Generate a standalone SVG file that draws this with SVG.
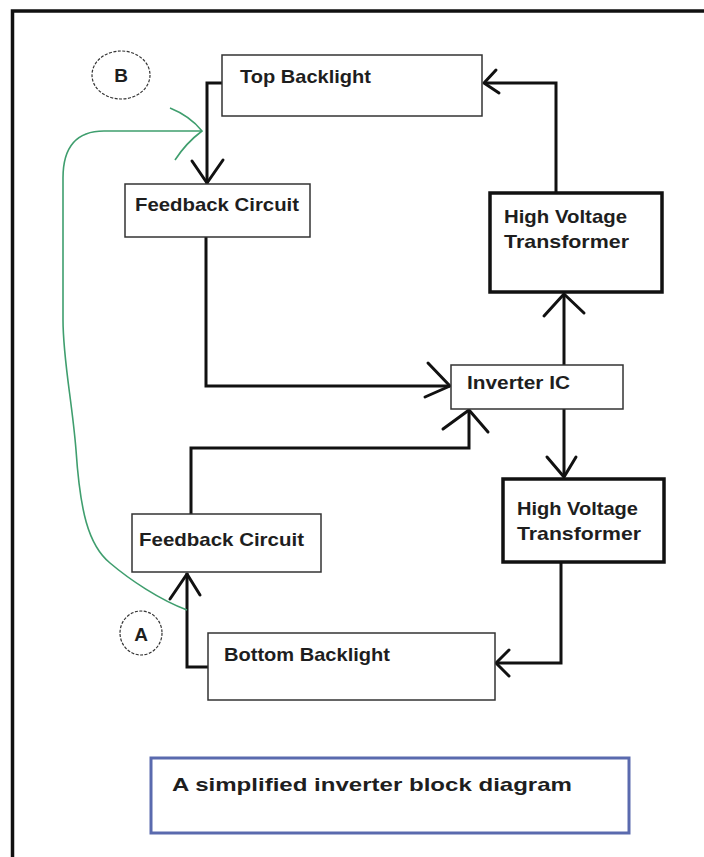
<svg xmlns="http://www.w3.org/2000/svg" width="704" height="857" viewBox="0 0 704 857">
<style>
.box{fill:#fff;stroke:#333;stroke-width:1.5}
.thick{fill:#fff;stroke:#111;stroke-width:3.5}
.lbl{font-family:"Liberation Sans",Arial,sans-serif;font-weight:bold;font-size:19px;fill:#1e1e1e}
.wire{fill:none;stroke:#111;stroke-width:3;stroke-linejoin:miter}
.head{fill:none;stroke:#111;stroke-width:3;stroke-linecap:round;stroke-linejoin:round}
.green{fill:none;stroke:#3f9e6e;stroke-width:1.6}
.circ{fill:#fff;stroke:#333;stroke-width:1.2;stroke-dasharray:3 1.5}
</style>
<rect x="0" y="0" width="704" height="857" fill="#fff"/>
<rect id="frame" x="12.5" y="11" width="760" height="900" fill="none" stroke="#111" stroke-width="3.5"/>

<g id="connectors">
  <!-- Top Backlight -> Feedback (top) -->
  <path class="wire" d="M222 83 H207 V184"/>
  <path class="head" d="M192 161 L207 183 L223 160"/>
  <!-- Feedback (top) -> Inverter IC -->
  <path class="wire" d="M206 237 V386 H450"/>
  <path class="head" d="M428 363 L450 386 L425 397"/>
  <!-- Feedback (bottom) -> Inverter IC -->
  <path class="wire" d="M191 514 V448 H469 V410"/>
  <path class="head" d="M443 429 L469 410 L488 432"/>
  <!-- Inverter IC -> upper HVT -->
  <path class="wire" d="M564 365 V294"/>
  <path class="head" d="M544 316 L564 294 L584 313"/>
  <!-- upper HVT -> Top Backlight -->
  <path class="wire" d="M556 193 V83 H484"/>
  <path class="head" d="M496 70 L484 83 L499 93"/>
  <!-- Inverter IC -> lower HVT -->
  <path class="wire" d="M564 409 V477"/>
  <path class="head" d="M547 457 L564 477 L576 457"/>
  <!-- lower HVT -> Bottom Backlight -->
  <path class="wire" d="M561 562 V663 H496"/>
  <path class="head" d="M509 650 L496 663 L509 676"/>
  <!-- Bottom Backlight -> Feedback (bottom) -->
  <path class="wire" d="M208 667 H187 V573"/>
  <path class="head" d="M170 599 L187 574 L200 595"/>
  <!-- green feedback path A -> B -->
  <path class="green" d="M187 610 C160 600 130 580 110 563 C88 545 80 510 76 450 C72 400 63 360 63 320 L63 178 Q63 131 104 131 L202 131"/>
  <path class="green" d="M170 108 Q190 116 202 131 Q186 143 175 160"/>
</g>

<g id="node-b">
  <ellipse class="circ" cx="121" cy="75" rx="29" ry="24"/>
  <text class="lbl" x="121" y="82" text-anchor="middle" font-size="20">B</text>
</g>
<g id="node-a">
  <ellipse class="circ" cx="141" cy="633" rx="21" ry="22"/>
  <text class="lbl" x="141" y="641" text-anchor="middle" font-size="21">A</text>
</g>

<g id="top-backlight">
  <rect class="box" x="222" y="55" width="260" height="61"/>
  <text class="lbl" x="240" y="83" textLength="131" lengthAdjust="spacingAndGlyphs">Top Backlight</text>
</g>
<g id="feedback-top">
  <rect class="box" x="125" y="184" width="185" height="53"/>
  <text class="lbl" x="135" y="211" textLength="164" lengthAdjust="spacingAndGlyphs">Feedback Circuit</text>
</g>
<g id="hvt-upper">
  <rect class="thick" x="490" y="193" width="172" height="99"/>
  <text class="lbl" x="504" y="223" textLength="123" lengthAdjust="spacingAndGlyphs">High Voltage</text>
  <text class="lbl" x="504" y="248" textLength="125" lengthAdjust="spacingAndGlyphs">Transformer</text>
</g>
<g id="inverter-ic">
  <rect class="box" x="451" y="365" width="172" height="44"/>
  <text class="lbl" x="467" y="389" textLength="103" lengthAdjust="spacingAndGlyphs">Inverter IC</text>
</g>
<g id="hvt-lower">
  <rect class="thick" x="503" y="479" width="161" height="83"/>
  <text class="lbl" x="517" y="515" textLength="121" lengthAdjust="spacingAndGlyphs">High Voltage</text>
  <text class="lbl" x="517" y="540" textLength="124" lengthAdjust="spacingAndGlyphs">Transformer</text>
</g>
<g id="feedback-bottom">
  <rect class="box" x="132" y="514" width="189" height="58"/>
  <text class="lbl" x="139" y="546" textLength="165" lengthAdjust="spacingAndGlyphs">Feedback Circuit</text>
</g>
<g id="bottom-backlight">
  <rect class="box" x="208" y="633" width="287" height="67"/>
  <text class="lbl" x="224" y="661" textLength="166" lengthAdjust="spacingAndGlyphs">Bottom Backlight</text>
</g>
<g id="caption">
  <rect x="151" y="758" width="478" height="75" fill="#fff" stroke="#5a6aae" stroke-width="3"/>
  <text class="lbl" x="172" y="791" font-size="24" textLength="400" lengthAdjust="spacingAndGlyphs">A simplified inverter block diagram</text>
</g>
</svg>
